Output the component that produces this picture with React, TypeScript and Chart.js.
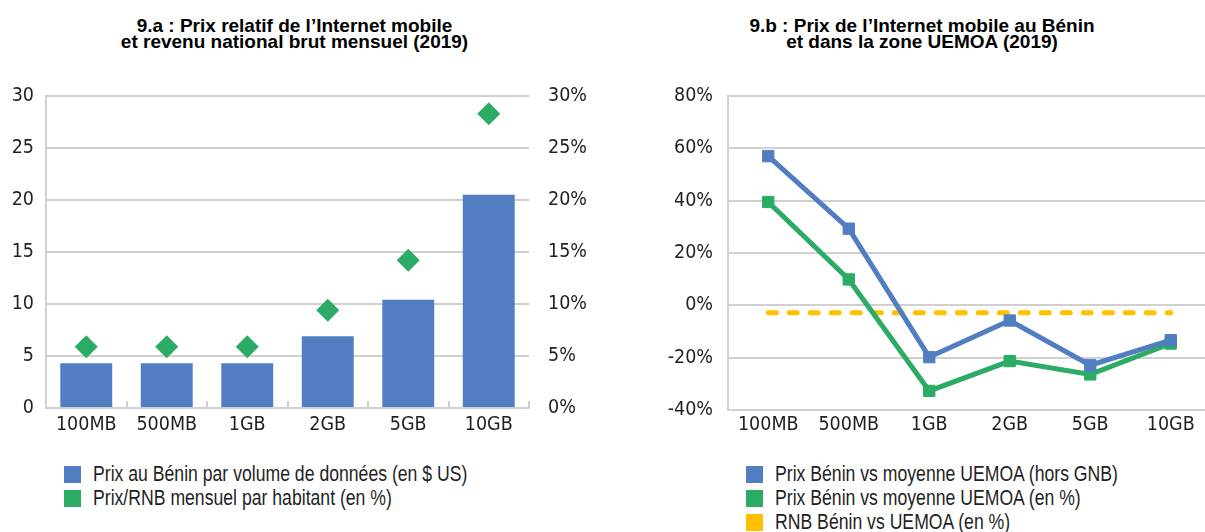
import React, { useEffect, useRef } from "react";
import { Chart, registerables } from "chart.js";

Chart.register(...registerables);

// ---------- data ----------
const categories = ["100MB", "500MB", "1GB", "2GB", "5GB", "10GB"];

const titleA = ["9.a : Prix relatif de l’Internet mobile", "et revenu national brut mensuel (2019)"];
const titleB = ["9.b : Prix de l’Internet mobile au Bénin", "et dans la zone UEMOA (2019)"];

const seriesA1Name = "Prix au Bénin par volume de données (en $ US)";
const seriesA1 = [4.3, 4.3, 4.3, 6.9, 10.4, 20.5];
const seriesA2Name = "Prix/RNB mensuel par habitant (en %)";
const seriesA2 = [5.9, 5.9, 5.9, 9.4, 14.2, 28.3];

const seriesB1Name = "Prix Bénin vs moyenne UEMOA (hors GNB)";
const seriesB1 = [57, 29.3, -19.8, -5.8, -22.9, -13.3];
const seriesB2Name = "Prix Bénin vs moyenne UEMOA (en %)";
const seriesB2 = [39.5, 9.9, -32.7, -21.3, -26.4, -14.6];
const seriesB3Name = "RNB Bénin vs UEMOA (en %)";
const seriesB3 = [-2.8, -2.8, -2.8, -2.8, -2.8, -2.8];

const BLUE = "#517EC2";
const GREEN = "#2BAB64";
const YELLOW = "#FFC000";
const GRID = "#D0D0D0";
const TEXT = "#1f1f1f";

const FONT = "'Liberation Sans Narrow', 'Arial Narrow', 'DejaVu Sans Condensed', sans-serif";
const TITLE_FONT = "'Liberation Sans', Arial, sans-serif";

const tickFont = { family: FONT, size: 19.5 };

function ChartA() {
  const ref = useRef<HTMLCanvasElement>(null);
  useEffect(() => {
    const chart = new Chart(ref.current!, {
      type: "bar",
      data: {
        labels: categories,
        datasets: [
          {
            type: "line",
            label: seriesA2Name,
            data: seriesA2,
            yAxisID: "y2",
            showLine: false,
            pointStyle: "rectRot",
            pointRadius: 11.5,
            pointBorderWidth: 0,
            pointBackgroundColor: GREEN,
            backgroundColor: GREEN,
            borderColor: GREEN,
            order: 0,
          } as any,
          {
            type: "bar",
            label: seriesA1Name,
            data: seriesA1,
            yAxisID: "y",
            backgroundColor: BLUE,
            categoryPercentage: 1,
            barPercentage: 0.645,
            order: 1,
          },
        ],
      },
      options: {
        animation: false,
        responsive: false,
        maintainAspectRatio: false,
        layout: { padding: { top: 96, left: 0, right: 0, bottom: 0 } },
        plugins: { legend: { display: false }, tooltip: { enabled: false }, title: { display: false } },
        scales: {
          x: {
            offset: true,
            grid: {
              offset: true,
              drawOnChartArea: false,
              drawTicks: true,
              tickLength: -7,
              color: GRID,
              lineWidth: 2,
            },
            border: { display: true, color: GRID, width: 2 },
            ticks: { font: tickFont, color: TEXT, padding: 12, maxRotation: 0, autoSkip: false },
            afterFit: (s: any) => {
              s.height = 42;
            },
          },
          y: {
            position: "left",
            min: 0,
            max: 30,
            ticks: { stepSize: 5, font: tickFont, color: TEXT, padding: 12 },
            grid: { color: GRID, lineWidth: 2, drawTicks: false },
            border: { display: true, color: GRID, width: 2 },
            afterFit: (s: any) => {
              s.width = 46;
            },
          },
          y2: {
            position: "right",
            min: 0,
            max: 30,
            ticks: {
              stepSize: 5,
              font: tickFont,
              color: TEXT,
              padding: 19,
              callback: (v: any) => v + "%",
            },
            grid: { drawOnChartArea: false, drawTicks: false },
            border: { display: false },
            afterFit: (s: any) => {
              s.width = 71;
            },
          },
        },
      },
    });
    return () => chart.destroy();
  }, []);
  return <canvas ref={ref} width={600} height={450} style={{ position: "absolute", left: 0, top: 0, width: 600, height: 450 }} />;
}

function ChartB() {
  const ref = useRef<HTMLCanvasElement>(null);
  useEffect(() => {
    const common = {
      borderWidth: 5,
      pointStyle: "rect",
      pointRadius: 8,
      pointBorderWidth: 1,
      tension: 0,
    };
    const chart = new Chart(ref.current!, {
      type: "line",
      data: {
        labels: categories,
        datasets: [
          {
            label: seriesB1Name,
            data: seriesB1,
            borderColor: BLUE,
            backgroundColor: BLUE,
            pointBackgroundColor: BLUE,
            pointBorderColor: BLUE,
            order: 0,
            ...common,
          } as any,
          {
            label: seriesB2Name,
            data: seriesB2,
            borderColor: GREEN,
            backgroundColor: GREEN,
            pointBackgroundColor: GREEN,
            pointBorderColor: GREEN,
            order: 1,
            ...common,
          },
          {
            label: seriesB3Name,
            data: seriesB3,
            borderColor: YELLOW,
            backgroundColor: YELLOW,
            borderWidth: 5,
            borderDash: [8, 13],
            borderCapStyle: "round",
            pointRadius: 0,
            order: 2,
          },
        ],
      },
      options: {
        animation: false,
        responsive: false,
        maintainAspectRatio: false,
        layout: { padding: { top: 96, left: 0, right: 3, bottom: 0 } },
        plugins: { legend: { display: false }, tooltip: { enabled: false }, title: { display: false } },
        scales: {
          x: {
            offset: true,
            grid: { display: false, drawTicks: false },
            border: { display: true, color: GRID, width: 2 },
            ticks: { font: tickFont, color: TEXT, padding: 3, maxRotation: 0, autoSkip: false },
            afterFit: (s: any) => {
              s.height = 40;
            },
          },
          y: {
            min: -40,
            max: 80,
            ticks: {
              stepSize: 20,
              font: tickFont,
              color: TEXT,
              padding: 15,
              callback: (v: any) => v + "%",
            },
            grid: { color: GRID, lineWidth: 2, drawTicks: false },
            border: { display: true, color: GRID, width: 2 },
            afterFit: (s: any) => {
              s.width = 108;
            },
          },
        },
      },
    });
    return () => chart.destroy();
  }, []);
  return <canvas ref={ref} width={600} height={450} style={{ position: "absolute", left: 620, top: 0, width: 600, height: 450 }} />;
}

function Title({ lines, left, width }: { lines: string[]; left: number; width: number }) {
  return (
    <div
      style={{
        position: "absolute",
        left,
        top: 18,
        width,
        textAlign: "center",
        fontFamily: TITLE_FONT,
        fontWeight: "bold",
        fontSize: 19,
        lineHeight: "15.5px",
        color: "#000",
        whiteSpace: "nowrap",
      }}
    >
      {lines.map((l, i) => (
        <div key={i}>{l}</div>
      ))}
    </div>
  );
}

function Legend({ items, left, textLeft }: { items: { name: string; color: string }[]; left: number; textLeft: number }) {
  return (
    <div style={{ position: "absolute", left, top: 462 }}>
      {items.map((it, i) => (
        <div key={i} style={{ display: "flex", alignItems: "center", height: 24 }}>
          <div style={{ width: 17, height: 17, background: it.color, flex: "none" }} />
          <div
            style={{
              marginLeft: textLeft - left - 17,
              fontFamily: TITLE_FONT,
              fontSize: 21.5,
              lineHeight: "24px",
              color: TEXT,
              whiteSpace: "nowrap",
              transform: "scaleX(0.82)",
              transformOrigin: "0 50%",
            }}
          >
            {it.name}
          </div>
        </div>
      ))}
    </div>
  );
}

export default function App() {
  return (
    <div
      style={{
        position: "fixed",
        left: 0,
        top: 0,
        width: 1205,
        height: 532,
        overflow: "hidden",
        background: "#fff",
      }}
    >
      <Title lines={titleA} left={0} width={589} />
      <Title lines={titleB} left={640} width={564} />
      <ChartA />
      <ChartB />
      <Legend
        left={64}
        textLeft={93}
        items={[
          { name: seriesA1Name, color: BLUE },
          { name: seriesA2Name, color: GREEN },
        ]}
      />
      <Legend
        left={746}
        textLeft={775}
        items={[
          { name: seriesB1Name, color: BLUE },
          { name: seriesB2Name, color: GREEN },
          { name: seriesB3Name, color: YELLOW },
        ]}
      />
    </div>
  );
}
